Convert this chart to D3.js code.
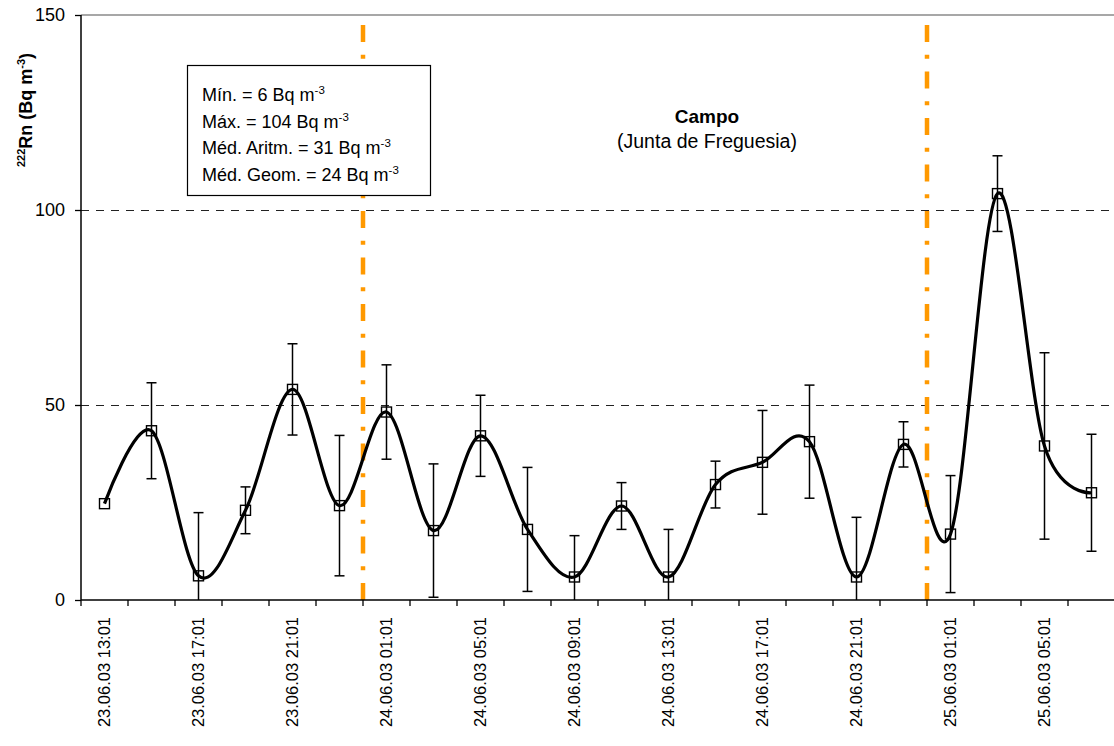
<!DOCTYPE html>
<html>
<head>
<meta charset="utf-8">
<script src="https://cdn.jsdelivr.net/npm/d3@7"></script>
<style>
  body { margin: 0; background: #fff; }
  svg { display: block; font-family: "Liberation Sans", Arial, sans-serif; }
</style>
</head>
<body>
<div class="svg-wrapper"></div>
<script>
// time stamps (every 2 h), Rn-222 values and their +/- errors
var times = ["23.06.03 13:01", "23.06.03 15:01", "23.06.03 17:01", "23.06.03 19:01",
             "23.06.03 21:01", "23.06.03 23:01", "24.06.03 01:01", "24.06.03 03:01",
             "24.06.03 05:01", "24.06.03 07:01", "24.06.03 09:01", "24.06.03 11:01",
             "24.06.03 13:01", "24.06.03 15:01", "24.06.03 17:01", "24.06.03 19:01",
             "24.06.03 21:01", "24.06.03 23:01", "25.06.03 01:01", "25.06.03 03:01",
             "25.06.03 05:01", "25.06.03 07:01"];
var radon  = [24.7, 43.4, 6.2, 23, 54, 24.2, 48.2, 17.8, 42.1, 18.1, 5.9, 24.1,
              5.9, 29.6, 35.3, 40.6, 5.9, 39.9, 16.9, 104.2, 39.5, 27.5];
var errors = [0, 12.3, 16.2, 6, 11.7, 18, 12.1, 17.1, 10.4, 15.9, 10.6, 6,
              12.2, 6, 13.3, 14.5, 15.3, 5.8, 15, 9.7, 23.9, 15];
var xLabels  = times.filter(function(d, i) { return i % 2 == 0; });
var dividers = ["24.06.03 01:01", "25.06.03 01:01"];
var yTicks   = [0, 50, 100, 150];
var gridVals = [50, 100];
var statLines = [["Mín. = 6 Bq m", "-3"], ["Máx. = 104 Bq m", "-3"],
                 ["Méd. Aritm. = 31 Bq m", "-3"], ["Méd. Geom. = 24 Bq m", "-3"]];

var W = 1114, H = 746,
    margin = {top: 15, left: 81, bottom: 146},
    plotRight = 1115;

var svg = d3.select(".svg-wrapper").append("svg")
  .attr("width", W)
  .attr("height", H);

var x = d3.scaleBand().domain(times).range([margin.left, plotRight]).padding(0),
    y = d3.scaleLinear().domain([0, 150]).range([H - margin.bottom, margin.top]);
var cx = function(d) { return x(d) + x.bandwidth() / 2; };

// grid
svg.selectAll(".grid").data(gridVals).enter().append("line")
  .attr("x1", margin.left).attr("x2", W)
  .attr("y1", function(d) { return y(d) + 0.5; }).attr("y2", function(d) { return y(d) + 0.5; })
  .attr("stroke", "#222").attr("stroke-width", 1).attr("stroke-dasharray", "8,7")
  .attr("shape-rendering", "crispEdges");

// top border of plot area
svg.append("line")
  .attr("x1", margin.left).attr("x2", W)
  .attr("y1", y(150)).attr("y2", y(150))
  .attr("stroke", "#8a8a8a").attr("stroke-width", 1.5);

// orange dividers between days
svg.selectAll(".divider").data(dividers).enter().append("line")
  .attr("x1", function(d) { return x(d); }).attr("x2", function(d) { return x(d); })
  .attr("y1", y(0)).attr("y2", y(150))
  .attr("stroke", "#ff9900").attr("stroke-width", 4.5)
  .attr("stroke-dasharray", "17,12.75,4,12.75");

// y axis
var yAxis = d3.axisLeft(y).tickValues(yTicks).tickSize(6).tickPadding(10);
var gy = svg.append("g").attr("transform", "translate(" + margin.left + ",0)").call(yAxis);
gy.select(".domain").attr("stroke", "#000").attr("stroke-width", 1.5).attr("d", "M0," + y(150) + "V" + y(0));
gy.selectAll(".tick line").attr("stroke", "#000").attr("stroke-width", 1.3);
gy.selectAll(".tick text").attr("font-size", 18).attr("fill", "#000")
  .attr("font-family", "Liberation Sans, Arial, sans-serif");

// x axis: labels at point centres, ticks on category edges
var xAxis = d3.axisBottom(x).tickValues(xLabels).tickSize(0).tickPadding(0);
var gx = svg.append("g").attr("transform", "translate(0," + y(0) + ")").call(xAxis);
gx.select(".domain").remove();
gx.selectAll(".tick text")
  .attr("font-size", 16.5).attr("fill", "#000")
  .attr("font-family", "Liberation Sans, Arial, sans-serif")
  .attr("text-anchor", "end")
  .attr("transform", "translate(0,17) rotate(-90)")
  .attr("x", 0).attr("y", 0).attr("dy", "0.36em");

var edges = times.map(function(d) { return x(d); });
svg.selectAll(".xtick").data(edges).enter().append("line")
  .attr("x1", function(d) { return d; }).attr("x2", function(d) { return d; })
  .attr("y1", y(0)).attr("y2", y(0) + 6)
  .attr("stroke", "#000").attr("stroke-width", 1.3);
svg.append("line")
  .attr("x1", margin.left).attr("x2", W)
  .attr("y1", y(0)).attr("y2", y(0))
  .attr("stroke", "#000").attr("stroke-width", 1.5);

// error bars
var capW = 5;
var eb = svg.selectAll(".err").data(times.filter(function(d, i) { return errors[i] > 0; }))
  .enter().append("g");
eb.append("line")
  .attr("x1", cx).attr("x2", cx)
  .attr("y1", function(d) { var i = times.indexOf(d); return y(radon[i] + errors[i]); })
  .attr("y2", function(d) { var i = times.indexOf(d); return y(Math.max(0, radon[i] - errors[i])); })
  .attr("stroke", "#000").attr("stroke-width", 1.5);
eb.append("line")
  .attr("x1", function(d) { return cx(d) - capW; }).attr("x2", function(d) { return cx(d) + capW; })
  .attr("y1", function(d) { var i = times.indexOf(d); return y(radon[i] + errors[i]); })
  .attr("y2", function(d) { var i = times.indexOf(d); return y(radon[i] + errors[i]); })
  .attr("stroke", "#000").attr("stroke-width", 1.5);
eb.filter(function(d) { var i = times.indexOf(d); return radon[i] - errors[i] > 0; })
  .append("line")
  .attr("x1", function(d) { return cx(d) - capW; }).attr("x2", function(d) { return cx(d) + capW; })
  .attr("y1", function(d) { var i = times.indexOf(d); return y(radon[i] - errors[i]); })
  .attr("y2", function(d) { var i = times.indexOf(d); return y(radon[i] - errors[i]); })
  .attr("stroke", "#000").attr("stroke-width", 1.5);

// smoothed line
var line = d3.line()
  .x(function(d, i) { return cx(times[i]); })
  .y(function(d) { return y(d); })
  .curve(d3.curveCatmullRom.alpha(0));
svg.append("path").datum(radon)
  .attr("d", line)
  .attr("fill", "none").attr("stroke", "#000").attr("stroke-width", 3.2);

// square markers
svg.selectAll(".mk").data(radon).enter().append("rect")
  .attr("x", function(d, i) { return cx(times[i]) - 5; })
  .attr("y", function(d) { return y(d) - 5; })
  .attr("width", 10).attr("height", 10)
  .attr("fill", "none").attr("stroke", "#000").attr("stroke-width", 1.4);

// stats box
svg.append("rect")
  .attr("x", 187.5).attr("y", 65.5).attr("width", 243).attr("height", 130)
  .attr("fill", "#fff").attr("stroke", "#000").attr("stroke-width", 1.2);
var st = svg.selectAll(".stat").data(statLines).enter().append("text")
  .attr("x", 202).attr("y", function(d, i) { return 101 + i * 26.7; })
  .attr("font-size", 18).attr("fill", "#000");
st.append("tspan").text(function(d) { return d[0]; });
st.append("tspan").attr("font-size", 11.5).attr("dy", -7).text(function(d) { return d[1]; });

// site title
svg.append("text").attr("x", 707).attr("y", 123).attr("text-anchor", "middle")
  .attr("font-size", 19).attr("font-weight", "bold").text("Campo");
svg.append("text").attr("x", 707).attr("y", 148).attr("text-anchor", "middle")
  .attr("font-size", 19.5).text("(Junta de Freguesia)");

// y axis title
var yt = svg.append("text")
  .attr("transform", "translate(32,110) rotate(-90)")
  .attr("text-anchor", "middle").attr("font-weight", "bold").attr("font-size", 18);
yt.append("tspan").attr("font-size", 11).attr("dy", -7).text("222");
yt.append("tspan").attr("dy", 7).text("Rn (Bq m");
yt.append("tspan").attr("font-size", 11).attr("dy", -7).text("-3");
yt.append("tspan").attr("dy", 7).text(")");
</script>
</body>
</html>
